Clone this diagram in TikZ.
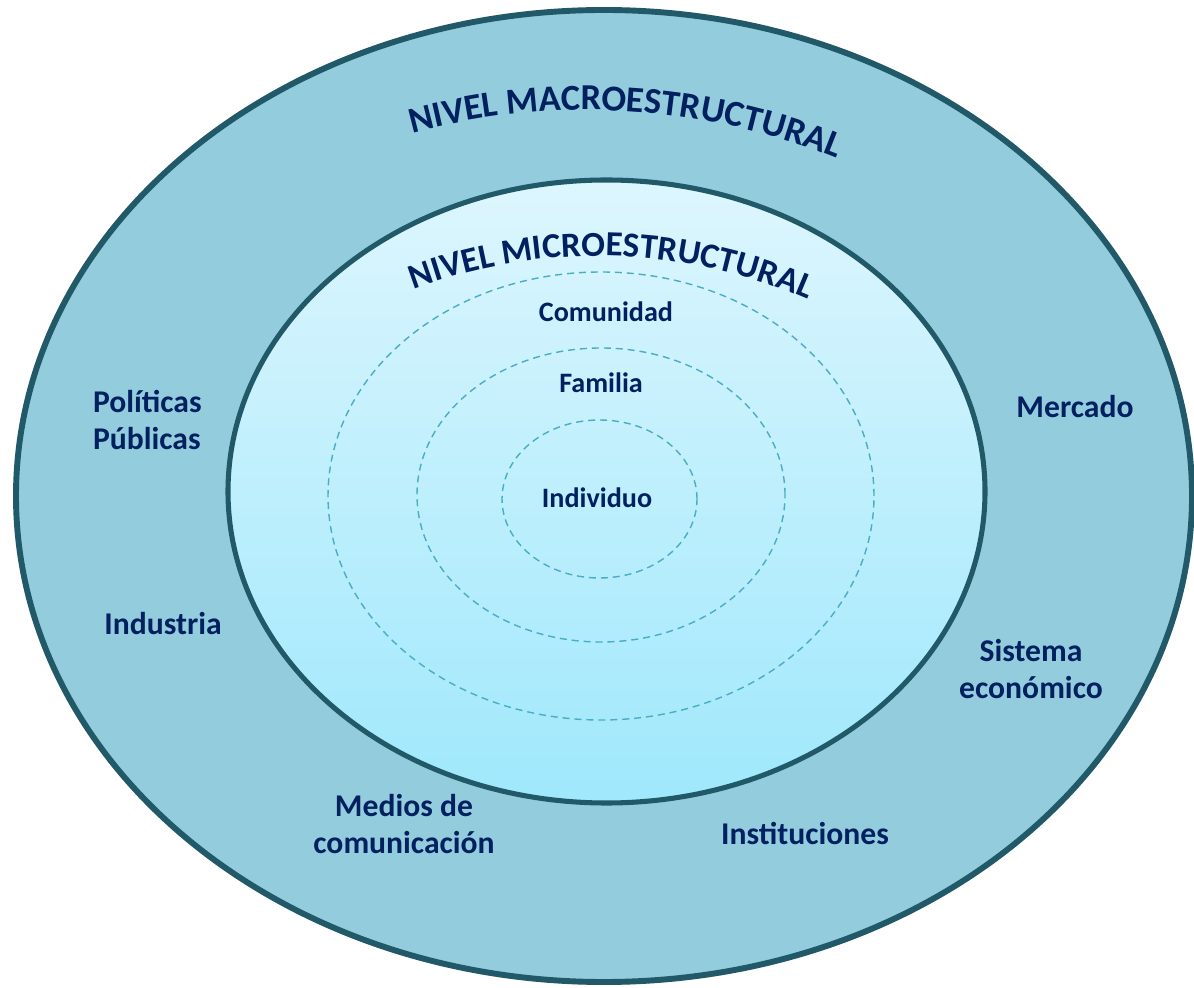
\documentclass[tikz,border=0pt]{standalone}
\usepackage{fontspec}
\setmainfont{Carlito}
\usetikzlibrary{decorations.text,shadows}
\definecolor{macrofill}{HTML}{93CDDD}
\definecolor{rimline}{HTML}{215968}
\definecolor{microtop}{HTML}{DDF6FE}
\definecolor{microbottom}{HTML}{9FE8FC}
\definecolor{dashline}{HTML}{4BACC6}
\definecolor{txtnavy}{HTML}{002060}
\newcommand\archfont{\fontsize{26}{30}\selectfont\bfseries}
\newcommand\archsmall{\fontsize{25}{30}\selectfont\bfseries}
\tikzset{
	rim/.style={draw=rimline,line width=#1},
	ring/.style={draw=dashline,line width=1pt,dash pattern=on 5pt off 3.5pt},
	outerlbl/.style={font=\fontsize{22.5}{27}\selectfont\bfseries,text=txtnavy,align=center},
	innerlbl/.style={font=\fontsize{20}{24}\selectfont\bfseries,text=txtnavy},
	archtext/.style={decorate,decoration={text along path,text align=center,text color=txtnavy,text={#1}}}
}
\begin{document}
\begin{tikzpicture}[x=0.025cm,y=0.025cm,every node/.style={inner sep=0,outer sep=0}]
	\useasboundingbox (0,0) rectangle (1194,987);
	\path[rim=4.2pt,fill=macrofill,drop shadow={opacity=0.3,shadow xshift=0pt,shadow yshift=-2pt}] (604,491) ellipse[x radius=588,y radius=486];
	\path[rim=3.6pt,top color=microtop,bottom color=microbottom] (606.5,495.5) ellipse[x radius=378.5,y radius=311.5];
	\draw[ring] (601,491) ellipse[x radius=273,y radius=224];
	\draw[ring] (601,492) ellipse[x radius=184,y radius=147];
	\draw[ring] (599.5,488) ellipse[x radius=97.5,y radius=79];
	\path[archtext={|\archfont|NIVEL MACROESTRUCTURAL}] ([shift={(112:667)}]587,210) arc[start angle=112,end angle=61.2,radius=667];
	\path[archtext={|\archsmall|NIVEL MICROESTRUCTURAL}] ([shift={(118:527)}]598,204) arc[start angle=118,end angle=59,radius=527];
	\node (comunidad) [innerlbl] at (606,675) {Comunidad};
	\node (familia) [innerlbl] at (601,604) {Familia};
	\node (individuo) [innerlbl] at (597,489) {Individuo};
	\node (politicas) [outerlbl,align=left,anchor=west] at (93,567) {Políticas\\Públicas};
	\node (industria) [outerlbl] at (163,363) {Industria};
	\node (medios) [outerlbl] at (404,163) {Medios de\\comunicación};
	\node (instituciones) [outerlbl] at (805,154) {Instituciones};
	\node (sistema) [outerlbl] at (1031,318) {Sistema\\económico};
	\node (mercado) [outerlbl] at (1075,580) {Mercado};
\end{tikzpicture}
\end{document}
